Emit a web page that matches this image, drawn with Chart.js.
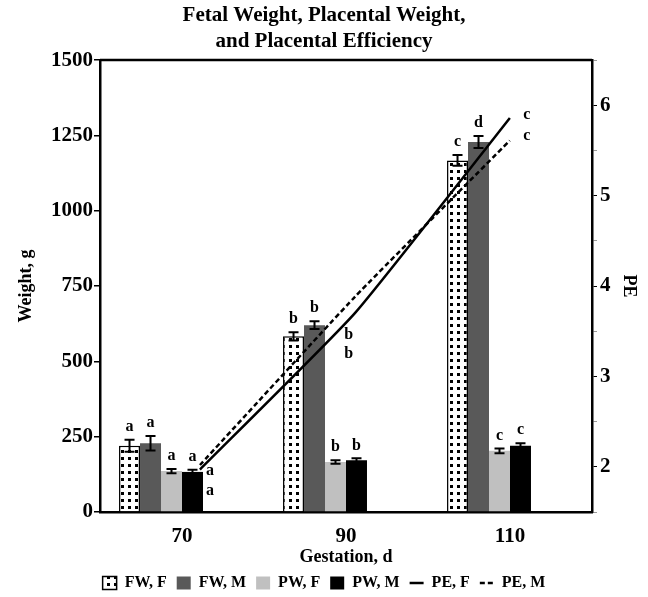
<!DOCTYPE html>
<html>
<head>
<meta charset="utf-8">
<script src="https://cdn.jsdelivr.net/npm/chart.js@4.4.0/dist/chart.umd.min.js"></script>
<style>
  html, body { margin: 0; padding: 0; background: #fff; }
  #wrap { width: 648px; height: 597px; }
</style>
</head>
<body>
<div id="wrap"><canvas id="chart"></canvas></div>
<script>
// gestation days (categories)
const gestation = ['70', '90', '110'];
const gestationDays = [70, 90, 110];

// weights, g
const fwF = [220, 583, 1167];
const fwM = [228, 620, 1228];
const pwF = [136, 166, 203];
const pwM = [133, 172, 220];

// SEM
const fwFErr = [20, 14, 18];
const fwMErr = [24, 13, 20];
const pwFErr = [7, 6, 8];
const pwMErr = [7, 6, 8];

// placental efficiency
const peF = [1.97, 3.70, 5.86];
const peM = [2.02, 3.88, 5.61];

// significance letters
const fwFLetters = ['a', 'b', 'c'];
const fwMLetters = ['a', 'b', 'd'];
const pwFLetters = ['a', 'b', 'c'];
const pwMLetters = ['a', 'b', 'c'];
const peFLetters = ['a', 'b', 'c'];
const peMLetters = ['a', 'b', 'c'];
// where the PE letters sit (gestation, PE)
const peLetterX = [71.3, 89.2, 112.2];
const peFLetterY = [1.96, 3.46, 5.89];
const peMLetterY = [1.73, 3.25, 5.66];

const serif = '"Liberation Serif", "Times New Roman", serif';

function dotPattern() {
    const c = document.createElement('canvas');
    c.width = 7;
    c.height = 7;
    const g = c.getContext('2d');
    g.fillStyle = '#fff';
    g.fillRect(0, 0, 7, 7);
    g.fillStyle = '#000';
    g.fillRect(2, 2, 3, 3);
    return g.createPattern(c, 'repeat');
}

const errors = [fwFErr, fwMErr, pwFErr, pwMErr];
const barValues = [fwF, fwM, pwF, pwM];
const barLetters = [fwFLetters, fwMLetters, pwFLetters, pwMLetters];

// the two PE lines come first in the dataset list; bars follow
const BAR_OFFSET = 2;

const extrasPlugin = {
    id: 'extras',
    afterDatasetsDraw(chart) {
        const ctx = chart.ctx;
        const y = chart.scales.y;
        const xl = chart.scales.xl;
        const y1 = chart.scales.y1;
        const area = chart.chartArea;

        ctx.save();
        // top frame line
        ctx.strokeStyle = '#000';
        ctx.lineWidth = 2.5;
        ctx.beginPath();
        ctx.moveTo(area.left, area.top);
        ctx.lineTo(area.right, area.top);
        ctx.stroke();

        ctx.font = 'bold 16px ' + serif;
        ctx.fillStyle = '#000';
        ctx.textAlign = 'center';
        ctx.textBaseline = 'middle';

        // error bars and letters over the bars
        for (let d = 0; d < 4; d++) {
            const meta = chart.getDatasetMeta(d + BAR_OFFSET);
            meta.data.forEach((bar, i) => {
                const v = barValues[d][i];
                const e = errors[d][i];
                const top = y.getPixelForValue(v + e);
                const bot = y.getPixelForValue(v - e);
                ctx.lineWidth = 2;
                ctx.beginPath();
                ctx.moveTo(bar.x, top);
                ctx.lineTo(bar.x, bot);
                ctx.moveTo(bar.x - 5, top);
                ctx.lineTo(bar.x + 5, top);
                ctx.moveTo(bar.x - 5, bot);
                ctx.lineTo(bar.x + 5, bot);
                ctx.stroke();
                ctx.fillText(barLetters[d][i], bar.x, top - 13);
            });
        }

        // PE letters
        for (let i = 0; i < gestationDays.length; i++) {
            ctx.fillText(peFLetters[i], xl.getPixelForValue(peLetterX[i]), y1.getPixelForValue(peFLetterY[i]));
            ctx.fillText(peMLetters[i], xl.getPixelForValue(peLetterX[i]), y1.getPixelForValue(peMLetterY[i]));
        }
        ctx.restore();
    }
};

const tickFont = { family: serif, size: 21, weight: 'bold' };
const titleFont = { family: serif, size: 18, weight: 'bold' };

new Chart(document.querySelector('#chart'), {
    type: 'bar',
    data: {
        labels: gestation,
        datasets: [
            {
                type: 'line', label: 'PE, F', xAxisID: 'xl', yAxisID: 'y1',
                data: gestationDays.map((g, i) => ({ x: g, y: peF[i] })),
                borderColor: '#000', borderWidth: 2.5, pointRadius: 0, tension: 0.15,
                pointStyle: 'line', backgroundColor: '#000'
            },
            {
                type: 'line', label: 'PE, M', xAxisID: 'xl', yAxisID: 'y1',
                data: gestationDays.map((g, i) => ({ x: g, y: peM[i] })),
                borderColor: '#000', borderWidth: 2.5, borderDash: [5, 3], pointRadius: 0, tension: 0.15,
                pointStyle: 'line', backgroundColor: '#000'
            },
            { label: 'FW, F', data: fwF, backgroundColor: dotPattern(), borderColor: '#000', borderWidth: 1.5, pointStyle: 'rect' },
            { label: 'FW, M', data: fwM, backgroundColor: '#595959', borderWidth: 0, pointStyle: 'rect' },
            { label: 'PW, F', data: pwF, backgroundColor: '#c0c0c0', borderWidth: 0, pointStyle: 'rect' },
            { label: 'PW, M', data: pwM, backgroundColor: '#000', borderWidth: 0, pointStyle: 'rect' }
        ]
    },
    options: {
        responsive: true,
        maintainAspectRatio: false,
        animation: false,
        datasets: { bar: { categoryPercentage: 1.024, barPercentage: 1.0 } },
        layout: { padding: { left: 0, right: 0, top: 0, bottom: -4 } },
        plugins: {
            title: {
                display: true,
                text: ['Fetal Weight, Placental Weight,', 'and Placental Efficiency'],
                font: { family: serif, size: 21, weight: 'bold', lineHeight: 1.24 },
                color: '#000',
                padding: { top: 3, bottom: 5 }
            },
            legend: {
                position: 'bottom',
                labels: {
                    usePointStyle: true,
                    pointStyleWidth: 14,
                    boxHeight: 13,
                    font: { family: serif, size: 16, weight: 'bold' },
                    color: '#000',
                    padding: 10,
                    // bars first, then the PE lines
                    sort: (a, b) => ((a.datasetIndex + 4) % 6) - ((b.datasetIndex + 4) % 6),
                    generateLabels: chart => {
                        const items = Chart.defaults.plugins.legend.labels.generateLabels(chart);
                        items.forEach(item => {
                            const ds = chart.data.datasets[item.datasetIndex];
                            if (ds.type === 'line') {
                                item.lineDash = ds.borderDash || [];
                                item.lineWidth = 2.5;
                                item.strokeStyle = '#000';
                            }
                        });
                        return items;
                    }
                }
            },
            tooltip: { enabled: false }
        },
        scales: {
            x: {
                type: 'category',
                offset: true,
                grid: { display: false, drawTicks: false },
                border: { display: true, color: '#000', width: 2.5 },
                ticks: { font: tickFont, color: '#000', padding: 12 },
                title: { display: true, text: 'Gestation, d', font: titleFont, color: '#000', padding: { top: 0, bottom: -3 } },
                afterFit: scale => { scale.height = 53; }
            },
            xl: {
                type: 'linear',
                display: false,
                offset: false,
                min: 57.1,
                max: 120.6
            },
            y: {
                position: 'left',
                min: 0,
                max: 1500,
                ticks: { stepSize: 250, font: tickFont, color: '#000', padding: 1, callback: v => String(v) },
                grid: { drawOnChartArea: false, drawTicks: true, tickLength: 6, color: '#000', lineWidth: 1.5 },
                border: { display: true, color: '#000', width: 2.5 },
                title: { display: true, text: 'Weight, g', font: titleFont, color: '#000', padding: { top: 16, bottom: 0 } },
                afterFit: scale => { scale.width = 100; }
            },
            y1: {
                position: 'right',
                min: 1.5,
                max: 6.5,
                ticks: {
                    stepSize: 0.5,
                    font: tickFont,
                    color: '#000',
                    padding: 3,
                    callback: v => Number.isInteger(v) ? v : ''
                },
                grid: {
                    drawOnChartArea: false,
                    tickLength: 5,
                    color: ctx => Number.isInteger(ctx.tick.value) ? '#000' : '#999',
                    lineWidth: 1
                },
                border: { display: true, color: '#000', width: 2.5 },
                title: { display: true, text: 'PE', font: titleFont, color: '#000', padding: { top: 9, bottom: 0 } },
                afterFit: scale => { scale.width = 56; }
            }
        }
    },
    plugins: [extrasPlugin]
});
</script>
</body>
</html>
